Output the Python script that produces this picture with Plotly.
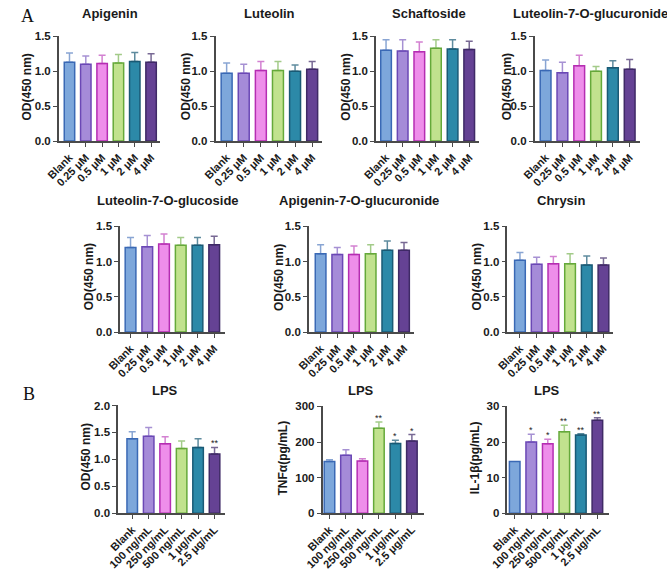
import plotly.graph_objects as go

W, H = 667, 574

conc_labels = ["Blank", "0.25 μM", "0.5 μM", "1 μM", "2 μM", "4 μM"]
lps_labels = ["Blank", "100 ng/mL", "250 ng/mL", "500 ng/mL", "1 μg/mL", "2.5 μg/mL"]

apigenin_mean = [1.13, 1.10, 1.11, 1.12, 1.14, 1.13]
apigenin_err = [0.13, 0.12, 0.12, 0.12, 0.13, 0.12]
luteolin_mean = [0.97, 0.97, 1.01, 1.01, 1.00, 1.03]
luteolin_err = [0.15, 0.13, 0.13, 0.13, 0.09, 0.11]
schaftoside_mean = [1.30, 1.29, 1.28, 1.33, 1.32, 1.31]
schaftoside_err = [0.15, 0.16, 0.14, 0.12, 0.13, 0.12]
lut7gcu_mean = [1.01, 0.98, 1.08, 1.00, 1.05, 1.03]
lut7gcu_err = [0.15, 0.15, 0.15, 0.07, 0.10, 0.14]
lut7glc_mean = [1.20, 1.21, 1.25, 1.23, 1.23, 1.24]
lut7glc_err = [0.14, 0.16, 0.14, 0.11, 0.11, 0.12]
api7gcu_mean = [1.11, 1.10, 1.10, 1.11, 1.16, 1.16]
api7gcu_err = [0.13, 0.10, 0.12, 0.13, 0.13, 0.11]
chrysin_mean = [1.02, 0.96, 0.97, 0.97, 0.95, 0.95]
chrysin_err = [0.11, 0.10, 0.10, 0.14, 0.13, 0.10]
lps_od_mean = [1.38, 1.43, 1.29, 1.20, 1.22, 1.10]
lps_od_err = [0.13, 0.16, 0.13, 0.14, 0.16, 0.12]
lps_od_sig = ["", "", "", "", "", "**"]
tnf_mean = [145, 163, 147, 239, 196, 203]
tnf_err = [5, 15, 6, 17, 9, 18]
tnf_sig = ["", "", "", "**", "*", "*"]
il1b_mean = [14.5, 20.0, 19.5, 22.9, 22.0, 26.1]
il1b_err = [0.0, 2.2, 1.3, 1.8, 0.3, 0.7]
il1b_sig = ["", "*", "*", "**", "**", "**"]

fill_colors = ["#7DA7DB", "#A58BD8", "#EE8EEA", "#C1E28E", "#2C89A8", "#654294"]
edge_colors = ["#3A69B5", "#6B48B5", "#B52DB2", "#65A93A", "#1A5A75", "#3F2A66"]
err_colors = ["rgba(58,105,181,0.6)", "rgba(107,72,181,0.6)", "rgba(181,45,178,0.6)",
              "rgba(101,169,58,0.6)", "rgba(26,90,117,0.7)", "rgba(63,42,102,0.7)"]

OD = "OD(450 nm)"
# px = (x_axis_start, x_axis_end, y_top, y_bottom)
panels = [
    dict(title="Apigenin", labels=conc_labels, mean=apigenin_mean, err=apigenin_err, sig=None,
         ytitle=OD, ymax=1.5, dtick=0.5, fmt=".1f", px=(42, 146, 31, 138), xr=(-0.65, 5.55),
         tpos=(95, 8), ytx=9),
    dict(title="Luteolin", labels=conc_labels, mean=luteolin_mean, err=luteolin_err, sig=None,
         ytitle=OD, ymax=1.5, dtick=0.5, fmt=".1f", px=(203, 312, 31, 138), xr=(-0.65, 5.55),
         tpos=(258, 8), ytx=172),
    dict(title="Schaftoside", labels=conc_labels, mean=schaftoside_mean, err=schaftoside_err, sig=None,
         ytitle=OD, ymax=1.5, dtick=0.5, fmt=".1f", px=(368, 474, 31, 138), xr=(-0.6, 5.6),
         tpos=(422, 8), ytx=337),
    dict(title="Luteolin-7-O-glucuronide", labels=conc_labels, mean=lut7gcu_mean, err=lut7gcu_err, sig=None,
         ytitle=OD, ymax=1.5, dtick=0.5, fmt=".1f", px=(531, 639, 31, 138), xr=(-0.65, 5.6),
         tpos=(588, 8), ytx=502),
    dict(title="Luteolin-7-O-glucoside", labels=conc_labels, mean=lut7glc_mean, err=lut7glc_err, sig=None,
         ytitle=OD, ymax=1.5, dtick=0.5, fmt=".1f", px=(105, 213, 225, 333), xr=(-0.62, 5.66),
         tpos=(154, 199), ytx=73),
    dict(title="Apigenin-7-O-glucuronide", labels=conc_labels, mean=api7gcu_mean, err=api7gcu_err, sig=None,
         ytitle=OD, ymax=1.5, dtick=0.5, fmt=".1f", px=(299, 407, 225, 333), xr=(-0.7, 5.6),
         tpos=(350, 199), ytx=268),
    dict(title="Chrysin", labels=conc_labels, mean=chrysin_mean, err=chrysin_err, sig=None,
         ytitle=OD, ymax=1.5, dtick=0.5, fmt=".1f", px=(503, 612, 225, 333), xr=(-0.75, 5.6),
         tpos=(558, 199), ytx=472),
    dict(title="LPS", labels=lps_labels, mean=lps_od_mean, err=lps_od_err, sig=lps_od_sig,
         ytitle=OD, ymax=2.0, dtick=0.5, fmt=".1f", px=(103, 213, 408, 518), xr=(-0.85, 5.65),
         tpos=(151, 393), ytx=70),
    dict(title="LPS", labels=lps_labels, mean=tnf_mean, err=tnf_err, sig=tnf_sig,
         ytitle="TNFα(pg/mL)", ymax=300, dtick=100, fmt="d", px=(313, 417, 409, 518), xr=(-0.42, 5.72),
         tpos=(353, 393), ytx=272),
    dict(title="LPS", labels=lps_labels, mean=il1b_mean, err=il1b_err, sig=il1b_sig,
         ytitle="IL-1β(pg/mL)", ymax=30, dtick=10, fmt="d", px=(503, 607, 409, 518), xr=(-0.44, 5.68),
         tpos=(544, 393), ytx=470),
]

FONT = "Arial, Liberation Sans, sans-serif"
AXC = "#4a4a4a"
TXT = "#1a1a1a"

fig = go.Figure()
annotations = []
layout = dict(width=W, height=H, margin=dict(l=0, r=0, t=0, b=0),
              paper_bgcolor="white", plot_bgcolor="white", showlegend=False,
              barmode="overlay", font=dict(family=FONT, color=TXT))

for i, p in enumerate(panels):
    n = i + 1
    xa = "x" if n == 1 else f"x{n}"
    ya = "y" if n == 1 else f"y{n}"
    x0, x1, y0, y1 = p["px"]
    for j, lab in enumerate(p["labels"]):
        fig.add_trace(go.Bar(
            x=[lab], y=[p["mean"][j]], width=[0.64],
            marker=dict(color=fill_colors[j], line=dict(color=edge_colors[j], width=1.5)),
            error_y=dict(type="data", array=[p["err"][j]], arrayminus=[0], symmetric=False,
                         color=err_colors[j], thickness=1.5, width=3.5, visible=p["err"][j] > 0),
            xaxis=xa, yaxis=ya, hoverinfo="skip"))
        if p["sig"] and p["sig"][j]:
            annotations.append(dict(x=lab, y=p["mean"][j] + p["err"][j], xref=xa, yref=ya,
                                    text=p["sig"][j], showarrow=False, yanchor="bottom",
                                    yshift=-3, font=dict(size=9, color=TXT, family=FONT)))
    layout["xaxis" if n == 1 else f"xaxis{n}"] = dict(
        domain=[x0 / W, x1 / W], anchor=ya, type="category",
        categoryorder="array", categoryarray=p["labels"], range=list(p["xr"]),
        showline=True, linecolor=AXC, linewidth=1.6, ticks="outside", ticklen=4,
        tickwidth=1.4, tickcolor=AXC, tickangle=-45, showgrid=False, zeroline=False,
        tickfont=dict(size=11, color=TXT, family=FONT, weight="bold"), fixedrange=True)
    layout["yaxis" if n == 1 else f"yaxis{n}"] = dict(
        domain=[1 - y1 / H, 1 - y0 / H], anchor=xa, range=[0, p["ymax"]],
        dtick=p["dtick"], tick0=0, tickformat=p["fmt"],
        showline=True, linecolor=AXC, linewidth=1.6, ticks="outside", ticklen=4,
        tickwidth=1.4, tickcolor=AXC, showgrid=False, zeroline=False,
        tickfont=dict(size=11.5, color=TXT, family=FONT, weight="bold"), fixedrange=True)
    tx, ty = p["tpos"]
    annotations.append(dict(x=tx / W, y=1 - ty / H, xref="paper", yref="paper", text=p["title"],
                            showarrow=False, xanchor="center", yanchor="middle",
                            font=dict(size=13, color=TXT, family=FONT, weight="bold")))
    annotations.append(dict(x=p["ytx"] / W, y=1 - ((y0 + y1) / 2 - 2) / H, xref="paper", yref="paper",
                            text=p["ytitle"], textangle=-90, showarrow=False,
                            xanchor="center", yanchor="middle",
                            font=dict(size=12, color=TXT, family=FONT, weight="bold")))

for letter, (lx, ly) in {"A": (10, 10), "B": (11, 396)}.items():
    annotations.append(dict(x=lx / W, y=1 - ly / H, xref="paper", yref="paper", text=letter,
                            showarrow=False, xanchor="center", yanchor="middle",
                            font=dict(size=18, color="#111", family="Times New Roman, Liberation Serif, serif")))

layout["annotations"] = annotations
fig.update_layout(**layout)
fig.write_html("out.html")
